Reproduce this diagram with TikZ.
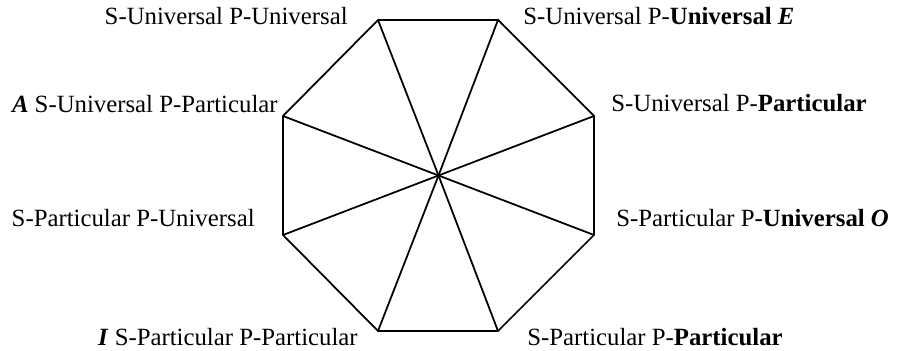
\documentclass[tikz,border=0pt]{standalone}
\usepackage{fontspec}
\setmainfont{Liberation Serif}[
	BoldFont={Liberation Serif Bold},
	ItalicFont={Liberation Serif Italic},
	BoldItalicFont={Liberation Serif Bold Italic}]
\usepackage{tikz}
\usetikzlibrary{positioning,calc}
\tikzset{
	edge/.style={draw=black,line width=1pt},
	lab/.style={inner sep=0pt,font=\fontsize{14.1pt}{17pt}\selectfont},
}

\begin{document}
\begin{tikzpicture}
	\useasboundingbox (0,0) rectangle (17.98,7.02);
	\coordinate (c) at (8.77,3.51);
	\coordinate (v1) at (7.56,6.62);
	\coordinate (v2) at (9.96,6.62);
	\coordinate (v3) at (11.88,4.70);
	\coordinate (v4) at (11.88,2.32);
	\coordinate (v5) at (9.96,0.40);
	\coordinate (v6) at (7.56,0.40);
	\coordinate (v7) at (5.66,2.32);
	\coordinate (v8) at (5.66,4.70);
	\draw[edge] (v1)--(v2)--(v3)--(v4)--(v5)--(v6)--(v7)--(v8)--cycle;
	\foreach \i in {1,...,8}
	\draw[edge] (c)--(v\i);
	% labels at the corners
	\node[lab,anchor=base east] (uu) at (6.96,6.52) {S-Universal P-Universal};
	\node[lab,anchor=base west] (uue) at (10.46,6.52) {S-Universal P-\textbf{Universal \textit{E}}};
	\node[lab,anchor=base west] (upb) at (12.22,4.78) {S-Universal P-\textbf{Particular}};
	\node[lab,anchor=base east] (upa) at (5.56,4.76) {\textbf{\textit{A}} S-Universal P-Particular};
	\node[lab,anchor=base east] (pu) at (5.10,2.48) {S-Particular P-Universal};
	\node[lab,anchor=base west] (puo) at (12.32,2.48) {S-Particular P-\textbf{Universal \textit{O}}};
	\node[lab,anchor=base east] (ppi) at (7.16,0.10) {\textbf{\textit{I}} S-Particular P-Particular};
	\node[lab,anchor=base west] (ppb) at (10.54,0.10) {S-Particular P-\textbf{Particular}};
\end{tikzpicture}
\end{document}
